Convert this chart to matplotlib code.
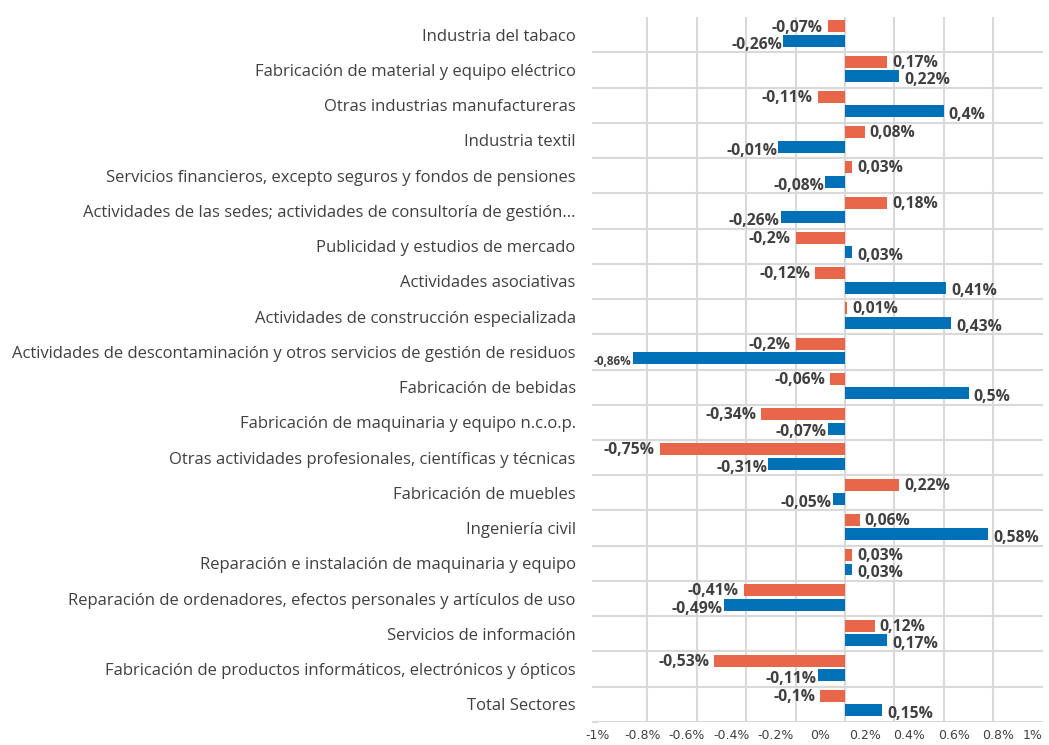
import matplotlib.pyplot as plt
import numpy as np

plt.rcParams['font.family'] = ['Open Sans', 'DejaVu Sans']

# Data (top to bottom as in the picture)
sectores = [
    "Industria del tabaco",
    "Fabricación de material y equipo eléctrico",
    "Otras industrias manufactureras",
    "Industria textil",
    "Servicios financieros, excepto seguros y fondos de pensiones",
    "Actividades de las sedes; actividades de consultoría de gestión...",
    "Publicidad y estudios de mercado",
    "Actividades asociativas",
    "Actividades de construcción especializada",
    "Actividades de descontaminación y otros servicios de gestión de residuos",
    "Fabricación de bebidas",
    "Fabricación de maquinaria y equipo n.c.o.p.",
    "Otras actividades profesionales, científicas y técnicas",
    "Fabricación de muebles",
    "Ingeniería civil",
    "Reparación e instalación de maquinaria y equipo",
    "Reparación de ordenadores, efectos personales y artículos de uso",
    "Servicios de información",
    "Fabricación de productos informáticos, electrónicos y ópticos",
    "Total Sectores",
]
serie_naranja = [-0.07, 0.17, -0.11, 0.08, 0.03, 0.17, -0.20, -0.12, 0.01, -0.20,
                 -0.06, -0.34, -0.75, 0.22, 0.06, 0.03, -0.41, 0.12, -0.53, -0.10]
serie_azul = [-0.25, 0.22, 0.40, -0.27, -0.08, -0.26, 0.03, 0.41, 0.43, -0.86,
              0.50, -0.07, -0.31, -0.05, 0.58, 0.03, -0.49, 0.17, -0.11, 0.15]
etiq_naranja = ["-0,07%", "0,17%", "-0,11%", "0,08%", "0,03%", "0,18%", "-0,2%", "-0,12%", "0,01%", "-0,2%",
                "-0,06%", "-0,34%", "-0,75%", "0,22%", "0,06%", "0,03%", "-0,41%", "0,12%", "-0,53%", "-0,1%"]
etiq_azul = ["-0,26%", "0,22%", "0,4%", "-0,01%", "-0,08%", "-0,26%", "0,03%", "0,41%", "0,43%", "-0,86%",
             "0,5%", "-0,07%", "-0,31%", "-0,05%", "0,58%", "0,03%", "-0,49%", "0,17%", "-0,11%", "0,15%"]
ticks_txt = ["-1%", "-0.8%", "-0.6%", "-0.4%", "-0.2%", "0%", "0.2%", "0.4%", "0.6%", "0.8%", "1%"]

c_orange = "#E8664A"
c_blue = "#0071B7"
c_grid = "#D9D9D9"
c_text = "#404040"

fig = plt.figure(figsize=(10.49, 7.45), dpi=100)
ax = fig.add_axes([0.570, 0.031, 0.424, 0.946])

y = np.arange(len(sectores))
h = 0.34
off = 0.205
ax.barh(y - off - 0.03, serie_naranja, height=h, color=c_orange, zorder=3)
ax.barh(y + off - 0.03, serie_azul, height=h, color=c_blue, zorder=3)

for yy, v, t in zip(y - off, serie_naranja, etiq_naranja):
    ax.text(v + (0.02 if v >= 0 else -0.02), yy, t, ha='left' if v >= 0 else 'right',
            va='center', fontsize=11.3, fontweight='bold', color=c_text)
for yy, v, t in zip(y + off, serie_azul, etiq_azul):
    fs = 11.3
    if v < -0.8:
        fs = 8.5
    ax.text(v + (0.02 if v >= 0 else -0.005), yy + 0.08, t, ha='left' if v >= 0 else 'right',
            va='center', fontsize=fs, fontweight='bold', color=c_text)

ax.set_xlim(-1, 0.8)
ax.set_ylim(len(sectores) - 0.5, -0.5)

# gridlines
ax.set_xticks(np.arange(-1, 0.81, 0.2), minor=True)
ax.grid(axis='x', which='minor', color=c_grid, linewidth=1.5, zorder=0)
for b in np.arange(0.5, len(sectores), 1):
    ax.axhline(b, color=c_grid, linewidth=1.5, zorder=0)

ax.set_xticks(np.linspace(-1, 0.8, 11))
ax.set_xticklabels(ticks_txt, fontsize=9, color=c_text, family=['Liberation Sans Narrow', 'DejaVu Sans'])
ax.get_xticklabels()[-1].set_horizontalalignment('right')
ax.tick_params(axis='x', which='both', length=0, pad=5)

ax.set_yticks(y)
ax.set_yticklabels(sectores, fontsize=12, color=c_text)
ax.set_yticks(np.arange(0.5, len(sectores), 1), minor=True)
ax.tick_params(axis='y', which='major', length=0, pad=16)
ax.tick_params(axis='y', which='minor', length=4, color=c_grid, width=1.5)

for s in ax.spines.values():
    s.set_visible(False)

plt.savefig("out.png", dpi=100)
